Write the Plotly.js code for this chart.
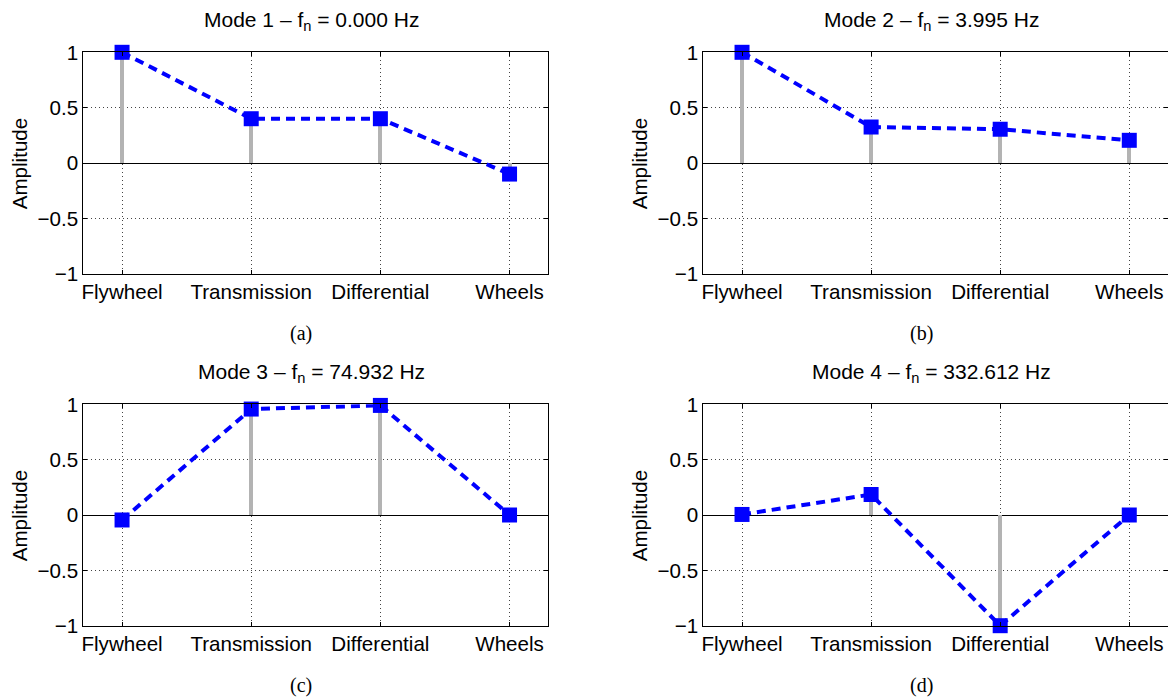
<!DOCTYPE html>
<html>
<head>
<meta charset="utf-8">
<script src="https://cdn.plot.ly/plotly-3.0.1.min.js"></script>
<style>
  html, body { margin: 0; padding: 0; background: #ffffff; }
  #chart { width: 1168px; height: 697px; }
</style>
</head>
<body>
<div id="chart"></div>
<script>
// ---- data ----
const categories = ['Flywheel', 'Transmission', 'Differential', 'Wheels'];
const mode1 = [1.0, 0.40, 0.40, -0.10];
const mode2 = [1.0, 0.325, 0.305, 0.205];
const mode3 = [-0.045, 0.957, 0.99, 0.0];
const mode4 = [0.005, 0.185, -1.0, 0.0];
const modeNames = ['Mode 1', 'Mode 2', 'Mode 3', 'Mode 4'];
const freqLabels = ['0.000', '3.995', '74.932', '332.612'];
const panelLabels = ['(a)', '(b)', '(c)', '(d)'];
const yTickVals = [-1, -0.5, 0, 0.5, 1];
const yAxisTitle = 'Amplitude';

const modes = [mode1, mode2, mode3, mode4];

// ---- layout geometry (pixels) ----
const W = 1168, H = 697;
const px = v => v / W;
const py = v => 1 - v / H;
const colLeft = [83.3, 703.3];
const plotW = 465;
const rowTop = [52.3, 404.3];
const plotH = 221.4;

const traces = [];
const layout = {
  width: W, height: H, autosize: false,
  margin: {l: 0, r: 0, t: 0, b: 0, pad: 0},
  paper_bgcolor: '#ffffff', plot_bgcolor: '#ffffff',
  showlegend: false,
  font: {family: 'Liberation Sans, Arial, Helvetica, sans-serif', size: 20, color: '#000000'},
  annotations: [],
  bargap: 0
};

modes.forEach((vals, i) => {
  const col = i % 2, row = Math.floor(i / 2);
  const n = i + 1;
  const xName = n === 1 ? 'xaxis' : 'xaxis' + n;
  const yName = n === 1 ? 'yaxis' : 'yaxis' + n;
  const xRef = n === 1 ? 'x' : 'x' + n;
  const yRef = n === 1 ? 'y' : 'y' + n;
  const left = colLeft[col], top = rowTop[row];

  layout[xName] = {
    domain: [px(left), Math.min(1, px(left + plotW))],
    anchor: yRef,
    type: 'category',
    categoryorder: 'array', categoryarray: categories,
    range: [-0.3, 3.3],
    showgrid: true, gridcolor: '#444444', griddash: '1px,3px', gridwidth: 1,
    showline: true, linecolor: '#000000', linewidth: 1, mirror: 'ticks',
    ticks: 'inside', ticklen: 4, tickcolor: '#000000', tickwidth: 1,
    tickfont: {size: 20.6, color: '#000000'},
    zeroline: false, fixedrange: true
  };
  layout[yName] = {
    domain: [py(top + plotH), py(top)],
    anchor: xRef,
    range: [-1, 1],
    tickmode: 'array', tickvals: yTickVals,
    showgrid: true, gridcolor: '#444444', griddash: '1px,3px', gridwidth: 1,
    zeroline: true, zerolinecolor: '#000000', zerolinewidth: 1,
    showline: true, linecolor: '#000000', linewidth: 1, mirror: 'ticks',
    ticks: 'inside', ticklen: 4, tickcolor: '#000000', tickwidth: 1,
    tickfont: {size: 20.6, color: '#000000'},
    fixedrange: true
  };

  // stems
  traces.push({
    type: 'bar', x: categories, y: vals, width: 0.031,
    marker: {color: '#b3b3b3', line: {width: 0}},
    xaxis: xRef, yaxis: yRef, hoverinfo: 'skip'
  });
  // dashed line + square markers
  traces.push({
    type: 'scatter', mode: 'lines+markers', x: categories, y: vals,
    line: {color: '#0000ff', width: 4, dash: '9px,6px'},
    marker: {symbol: 'square', size: 15, color: '#0000ff', line: {width: 0}},
    cliponaxis: false,
    xaxis: xRef, yaxis: yRef, hoverinfo: 'skip'
  });

  // title
  layout.annotations.push({
    xref: 'paper', yref: 'paper',
    x: px(left + plotW / 2 - 4), y: py(top - 31), xanchor: 'center', yanchor: 'middle',
    text: modeNames[i] + ' \u2013 f<sub>n</sub> = ' + freqLabels[i] + ' Hz',
    showarrow: false, font: {size: 21, color: '#000000'}
  });
  // y axis title
  layout.annotations.push({
    xref: 'paper', yref: 'paper',
    x: px(left - 64), y: py(top + plotH / 2), xanchor: 'center', yanchor: 'middle',
    text: yAxisTitle, textangle: -90,
    showarrow: false, font: {size: 20.6, color: '#000000'}
  });
  // panel label
  layout.annotations.push({
    xref: 'paper', yref: 'paper',
    x: px(left + 218), y: py(top + 281), xanchor: 'center', yanchor: 'middle',
    text: panelLabels[i],
    showarrow: false, font: {family: 'Liberation Serif, Times New Roman, serif', size: 20, color: '#000000'}
  });
});

Plotly.newPlot('chart', traces, layout, {displayModeBar: false, staticPlot: true});
</script>
</body>
</html>
